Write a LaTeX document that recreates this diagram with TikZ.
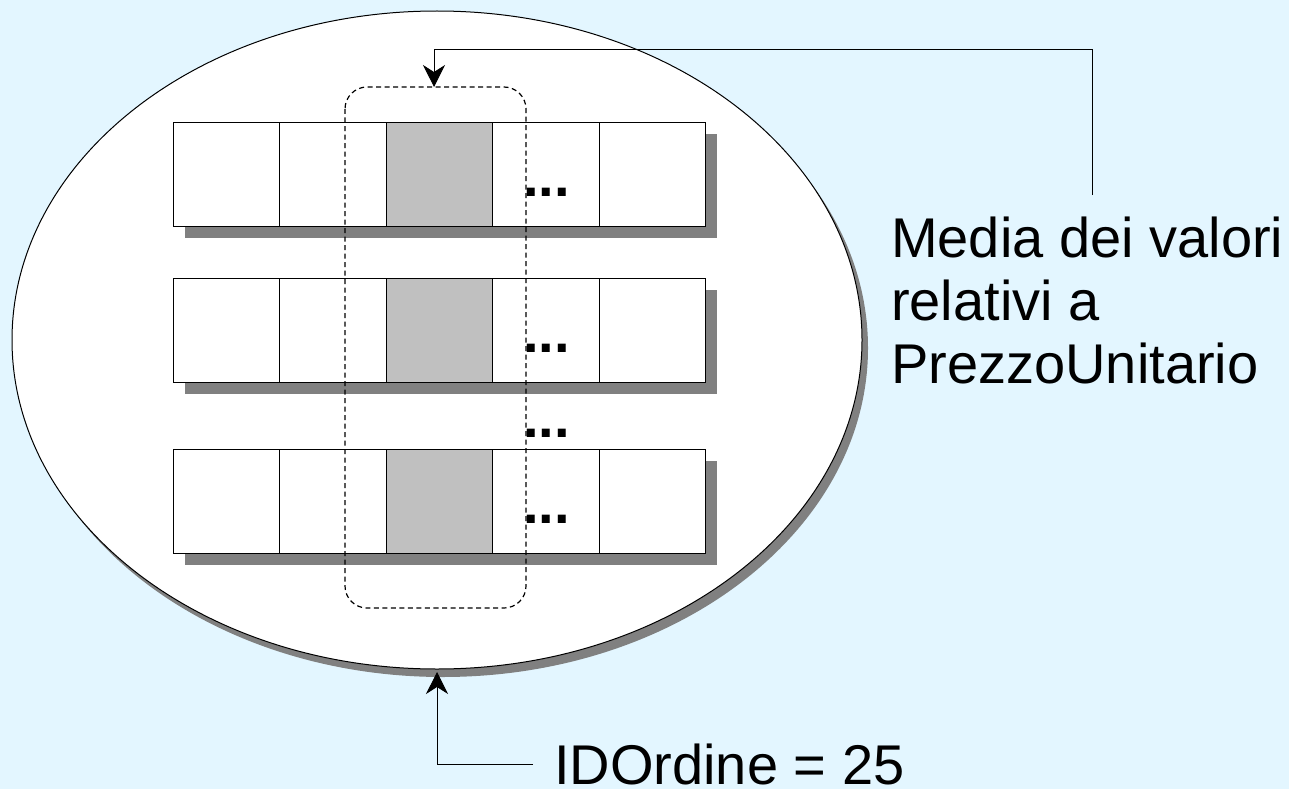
\documentclass[tikz,border=0pt]{standalone}
\usepackage{fontspec}
\setmainfont{Liberation Sans}
\usetikzlibrary{arrows.meta,calc,shapes.geometric}
\definecolor{bg}{HTML}{E3F6FF}
\definecolor{cellgray}{HTML}{C0C0C0}
\definecolor{shadowgray}{HTML}{808080}
\tikzset{
  cell/.style={draw=black,line width=0.9pt,fill=white,minimum width=106.4pt,minimum height=104pt,inner sep=0pt,anchor=north west},
  hcell/.style={cell,fill=cellgray},
  rowshadow/.style={fill=shadowgray,draw=none},
  dotsstyle/.style={font=\fontsize{56}{60}\selectfont\bfseries,inner sep=0pt,anchor=base west},
  label/.style={font=\fontsize{56}{63}\selectfont,inner sep=0pt,align=left},
  conn/.style={draw=black,line width=0.9pt},
  arr/.style={conn,-{Stealth[length=22pt,width=22pt,inset=7pt]}},
  oval/.style={ellipse,draw=black,line width=1pt,fill=white,minimum width=850pt,minimum height=658pt,inner sep=0pt},
  ovalshadow/.style={ellipse,fill=shadowgray,minimum width=850pt,minimum height=658pt,inner sep=0pt},
  column/.style={draw=black,line width=1.2pt,dash pattern=on 5pt off 3.5pt,rounded corners=22pt},
}
\begin{document}
\begin{tikzpicture}[x=1pt,y=-1pt]
\fill[bg] (0,0) rectangle (1289,789);
\useasboundingbox (0,0) rectangle (1289,789);
% ellipse shadow and ellipse
\node[ovalshadow] (ellsh) at (443,348) {};
\node[oval] (ell) at (437,340) {};
% rows
\foreach \r/\y in {1/122,2/278,3/449}{
  \fill[rowshadow] (185,\y+12) rectangle (717,\y+116);
  \node[cell]  (c\r a) at (173,\y) {};
  \node[cell]  (c\r b) at (279.4,\y) {};
  \node[hcell] (c\r c) at (385.8,\y) {};
  \node[cell]  (c\r d) at (492.2,\y) {};
  \node[cell]  (c\r e) at (598.6,\y) {};
}
% dashed column
\draw[column] (345,87) rectangle (526,608);
\coordinate (coltop) at (434,87);
% dots
\node[dotsstyle] (d1) at (523,196) {...};
\node[dotsstyle] (d2) at (523,352) {...};
\node[dotsstyle] (dm) at (523,437) {...};
\node[dotsstyle] (d3) at (523,523) {...};
% labels
\node[label,anchor=base west] (media) at (891,383) {Media dei valori\\relativi a\\PrezzoUnitario};
\node[label,anchor=base west] (idord) at (554,784) {IDOrdine = 25};
% connectors
\coordinate (mstart) at (1092,195);
\coordinate (mcorner) at (1092,49);
\draw[arr] (mstart) -- (mcorner) -| (coltop);
\coordinate (istart) at (533,764);
\coordinate (itip) at (437,672);
\draw[arr] (istart) -| (itip);
\end{tikzpicture}
\end{document}
